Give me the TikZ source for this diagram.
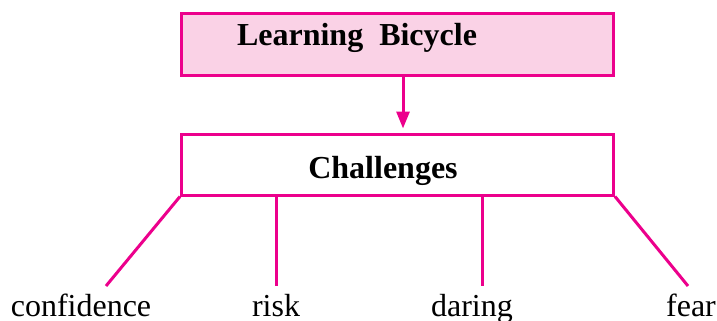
\documentclass[tikz,border=0pt]{standalone}
\usepackage{fontspec}
\setmainfont{Liberation Serif}
\usepackage{tikz}
\usetikzlibrary{arrows.meta}
\definecolor{magline}{RGB}{236,0,140}
\definecolor{pinkfill}{RGB}{250,210,230}

\begin{document}
\begin{tikzpicture}[x=1pt, y=-1pt,
box/.style={draw=magline, line width=3pt, rectangle, inner sep=0pt, minimum width=432pt},
link/.style={magline, line width=3pt},
word/.style={anchor=base, font=\fontsize{32}{38}\selectfont}]
\useasboundingbox (0,0) rectangle (717,321);
\node[box, fill=pinkfill, minimum height=62pt] (learn) at (397.5,44.5) {};
\node[box, minimum height=61pt] (chal) at (397.5,164.5) {};
 \node[word, font=\fontsize{32}{38}\selectfont\bfseries] (learntext) at (357,46) {Learning\ \ Bicycle};
 \node[word, font=\fontsize{32}{38}\selectfont\bfseries] (chaltext) at (383,178) {Challenges};
\draw[link, -{Triangle[length=17pt, width=13pt]}, shorten >=4pt] ([xshift=5.5pt]learn.south) -- ([xshift=5.5pt]chal.north);
\coordinate (confend) at (106,286);
\coordinate (riskend) at (276,286);
\coordinate (darend) at (482,286);
\coordinate (fearend) at (688,286);
\draw[link] (chal.south west) -- (confend);
\draw[link] (chal.south west -| riskend) -- (riskend);
\draw[link] (chal.south west -| darend) -- (darend);
\draw[link] (chal.south east) -- (fearend);
 \node[word] (conf) at (81,316) {confidence};
 \node[word] (risk) at (276,316) {risk};
 \node[word] (dar) at (472,316) {daring};
 \node[word] (fear) at (691,316) {fear};
\end{tikzpicture}
\end{document}
